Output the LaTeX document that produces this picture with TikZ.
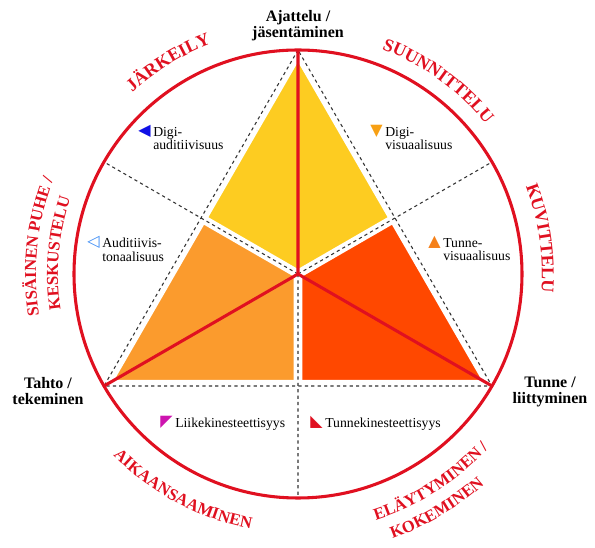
\documentclass[tikz,border=0pt]{standalone}
\usepackage{fontspec}
\setmainfont{Liberation Serif}
\newfontfamily\symfont{DejaVu Sans}
\usepackage{xcolor}
\usepackage{tikz}
\usetikzlibrary{positioning, decorations.text}
\definecolor{ired}{RGB}{224,16,32}
\definecolor{kyellow}{RGB}{253,204,33}
\definecolor{korange}{RGB}{251,155,45}
\definecolor{kred}{RGB}{255,72,0}
\definecolor{mblue}{RGB}{16,16,230}
\definecolor{lblue}{RGB}{60,140,245}
\definecolor{morange}{RGB}{247,160,20}
\definecolor{dorange}{RGB}{245,128,25}
\definecolor{mmagenta}{RGB}{205,20,175}
\newcommand\ringfont{\bfseries\fontsize{13.5}{13.5}\selectfont}
\newcommand\ringsmall{\bfseries\fontsize{12.5}{12.5}\selectfont}
\tikzset{
    redline/.style={ired, line width=2.3pt},
    whitegap/.style={white, line width=6.5pt},
    edgegap/.style={white, line width=9pt},
    dashline/.style={black!80, line width=0.8pt, dash pattern=on 2.4pt off 2.4pt},
    vertexlbl/.style={font=\bfseries\fontsize{12}{12}\selectfont, align=center, inner sep=0pt},
    lbl/.style={font=\fontsize{10.3}{10}\selectfont, align=left, inner sep=0pt, anchor=north west},
    mk/.style={font=\symfont\fontsize{12}{12}\selectfont, inner sep=0pt, anchor=east},
    ringtext/.style={decorate, decoration={text along path, text align=center, text color=ired}},
}

\begin{document}
\begin{tikzpicture}[x=0.75pt, y=0.75pt]
    \useasboundingbox (-298,-274) rectangle (297,274);
    % triangle corners, edge midpoints and ends of the dividers
    \coordinate (c) at (0,0);
    \coordinate (top) at (90:224);
    \coordinate (left) at (210:224);
    \coordinate (right) at (330:224);
    \coordinate (mleft) at (150:112);
    \coordinate (mright) at (30:112);
    \coordinate (mbottom) at (270:112);
    \coordinate (eleft) at (150:224);
    \coordinate (eright) at (30:224);
    \coordinate (ebottom) at (270:224);

    % coloured kites
    \fill[kyellow] (top) -- (mright) -- (c) -- (mleft) -- cycle;
    \fill[korange] (left) -- (mleft) -- (c) -- (mbottom) -- cycle;
    \fill[kred] (right) -- (mright) -- (c) -- (mbottom) -- cycle;
    \draw[edgegap] (top) -- (left) -- (right) -- cycle;
    \draw[whitegap] (c) -- (mleft) (c) -- (mright) (c) -- (mbottom);

    % dashed dividers
    \draw[dashline] (top) -- (left) -- (right) -- cycle;
    \draw[dashline] (c) -- (eleft) (c) -- (eright) (c) -- (ebottom);

    % red spokes and ring
    \draw[redline] (c) -- (top) (c) -- (left) (c) -- (right);
    \draw[redline] (c) circle[radius=224];

    % texts round the ring
    \path[ringtext, decoration={text={|\ringfont|JÄRKEILY}}] (156.5:246) arc[start angle=156.5, end angle=86.5, radius=246];
    \path[ringtext, decoration={text={|\ringfont|SUUNNITTELU}}] (89:240) arc[start angle=89, end angle=19, radius=240];
    \path[ringtext, decoration={text={|\ringfont|KUVITTELU}}] (43.4:244) arc[start angle=43.4, end angle=-26.6, radius=244];
    \path[ringtext, decoration={text={|\ringsmall|SISÄINEN PUHE /}}] (209:262) arc[start angle=209, end angle=139, radius=262];
    \path[ringtext, decoration={text={|\ringsmall|KESKUSTELU}}] (210:240) arc[start angle=210, end angle=140, radius=240];
    \path[ringtext, decoration={text={|\ringsmall|AIKAANSAAMINEN}}] (207:259) arc[start angle=207, end angle=277, radius=259];
    \path[ringtext, decoration={text={|\ringsmall|ELÄYTYMINEN /}}] (267.6:258) arc[start angle=267.6, end angle=337.6, radius=258];
    \path[ringtext, decoration={text={|\ringsmall|KOKEMINEN}}] (265.6:281) arc[start angle=265.6, end angle=335.6, radius=281];

    % corner labels
    \node[vertexlbl] (ajattelu) at (0,248) {Ajattelu /\\jäsentäminen};
    \node[vertexlbl] (tahto) at (-250,-117) {Tahto /\\tekeminen};
    \node[vertexlbl] (tunne) at (252,-118) {Tunne /\\liittyminen};

    % sector labels with their markers
    \node[lbl] (digiaud) at (-145,147) {Digi-\\auditiivisuus};
    \node[lbl] (digivis) at (87,147) {Digi-\\visuaalisuus};
    \node[lbl] (audton) at (-196,36) {Auditiivis-\\tonaalisuus};
    \node[lbl] (tunvis) at (145,36) {Tunne-\\visuaalisuus};
    \node[lbl] (liike) at (-123,-144) {Liikekinesteettisyys};
    \node[lbl] (tunkin) at (27,-144) {Tunnekinesteettisyys};
    \node[mk, text=mblue] (mdigiaud) at ([xshift=-1.5pt, yshift=-3.4pt]digiaud.north west) {◀};
    \node[mk, text=morange] (mdigivis) at ([xshift=-1.5pt, yshift=-3.4pt]digivis.north west) {▼};
    \node[mk, text=lblue] (maudton) at ([xshift=-1.5pt, yshift=-3.4pt]audton.north west) {◁};
    \node[mk, text=dorange] (mtunvis) at ([xshift=-1.5pt, yshift=-3.4pt]tunvis.north west) {▲};
    \node[mk, text=mmagenta] (mliike) at ([xshift=-1.5pt, yshift=-3.4pt]liike.north west) {◤};
    \node[mk, text=ired] (mtunkin) at ([xshift=-1.5pt, yshift=-3.4pt]tunkin.north west) {◣};
\end{tikzpicture}
\end{document}
